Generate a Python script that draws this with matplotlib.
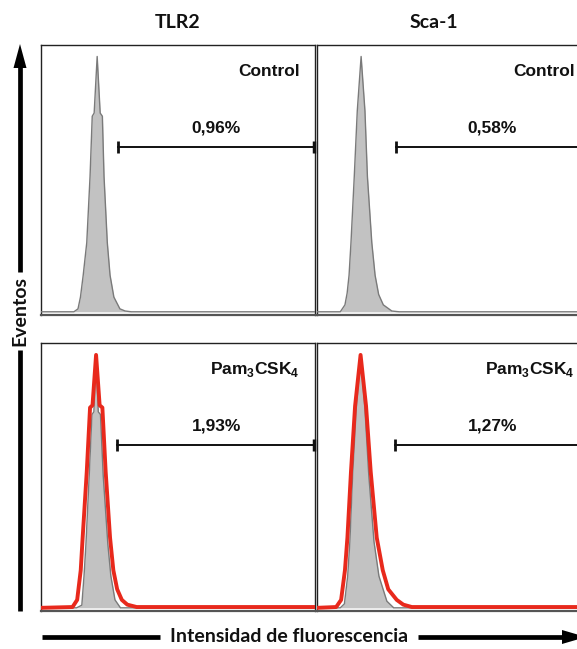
import matplotlib
matplotlib.use("Agg")
import matplotlib.pyplot as plt

plt.rcParams['mathtext.fontset'] = 'custom'
plt.rcParams['mathtext.rm'] = 'Liberation Sans:bold'
plt.rcParams['mathtext.bf'] = 'Liberation Sans:bold'

# fluorescence channel (% of range) vs events (% of max)
tlr2_ctrl_x = [0, 12.0, 13.5, 14.4, 15.4, 16.7, 17.9, 18.7, 19.4, 20.5, 21.6, 22.4, 23.0, 24.2, 25.2, 26.6, 28.8, 30.7, 33.0, 100]
tlr2_ctrl_y = [0, 0, 1.1, 5.5, 13.7, 25.9, 50.7, 73.3, 74.5, 95.7, 74.5, 73.3, 50.7, 25.9, 13.7, 5.5, 1.1, 0.3, 0, 0]

sca1_ctrl_x = [0, 8.5, 10.2, 11.0, 11.7, 12.4, 13.6, 14.7, 16.1, 17.5, 18.4, 20.0, 21.2, 22.5, 24.2, 27.3, 30.0, 100]
sca1_ctrl_y = [0, 0, 2.6, 7.0, 13.7, 25.9, 50.7, 75.3, 95.7, 75.3, 50.7, 25.9, 13.7, 6.5, 2.6, 0.3, 0, 0]

# control overlay drawn under the Pam3CSK4 trace
tlr2_over_x = [0, 13.0, 14.9, 15.7, 16.4, 17.6, 18.6, 19.3, 20.1, 20.9, 21.7, 22.7, 24.4, 25.5, 27.0, 29.0, 100]
tlr2_over_y = [0, 0, 1.0, 12.0, 24.0, 50.0, 73.0, 74.0, 95.0, 74.0, 73.0, 50.0, 24.0, 12.0, 3.0, 0, 0]

sca1_over_x = [0, 8.5, 10.0, 11.2, 12.0, 13.0, 14.3, 15.9, 17.5, 18.9, 20.8, 22.6, 25.5, 28.0, 100]
sca1_over_y = [0, 0, 1.5, 12.0, 25.0, 50.0, 75.0, 95.0, 75.0, 50.0, 25.0, 12.0, 2.5, 0, 0]

tlr2_pam_x = [0, 11.5, 13.2, 14.5, 15.2, 16.7, 17.9, 18.8, 20.1, 21.4, 22.4, 23.6, 25.2, 26.4, 27.8, 29.5, 31.5, 34.9, 100]
tlr2_pam_y = [0, 0.3, 3.0, 14.2, 26.5, 51.4, 75.6, 76.5, 95.5, 76.5, 75.6, 51.4, 26.5, 14.2, 7.0, 3.0, 1.2, 0.3, 0.3]

sca1_pam_x = [0, 7.0, 8.8, 10.2, 11.1, 12.4, 13.9, 15.9, 17.9, 19.6, 21.8, 24.0, 26.0, 29.1, 31.5, 34.6, 100]
sca1_pam_y = [0, 0.3, 3.0, 14.2, 26.5, 51.4, 76.2, 95.5, 76.2, 51.4, 26.5, 14.2, 7.0, 3.0, 1.2, 0.3, 0.3]

markers = ['TLR2', 'Sca-1']
conditions = ['Control', r'Pam$_3$CSK$_4$']
percentages = [['0,96%', '0,58%'], ['1,93%', '1,27%']]
gate_start = [[28.1, 28.8], [27.8, 28.5]]
gate_level = [61.9, 61.3]

gray_curves = [[(tlr2_ctrl_x, tlr2_ctrl_y), (sca1_ctrl_x, sca1_ctrl_y)],
               [(tlr2_over_x, tlr2_over_y), (sca1_over_x, sca1_over_y)]]
pam_curves = [(tlr2_pam_x, tlr2_pam_y), (sca1_pam_x, sca1_pam_y)]

W, H = 577, 649
fig = plt.figure(figsize=(W / 100, H / 100), dpi=100)

# panel boxes in pixels
col_px = [(41, 315), (317, 591)]
row_px = [(45, 315), (343, 611)]

for r in range(2):
    for c in range(2):
        x0, x1 = col_px[c]
        y0, y1 = row_px[r]
        ax = fig.add_axes([x0 / W, 1 - y1 / H, (x1 - x0) / W, (y1 - y0) / H])
        ax.set_xlim(0, 100)
        ax.set_ylim(-1.2, 100)
        ax.set_xticks([])
        ax.set_yticks([])
        for side in ['left', 'top', 'right']:
            ax.spines[side].set_linewidth(1.0)
            ax.spines[side].set_color('#222222')
        ax.spines['bottom'].set_linewidth(1.6)
        ax.spines['bottom'].set_color('#555555')

        gx, gy = gray_curves[r][c]
        ax.fill_between(gx, gy, 0, color='#c2c2c2', lw=0, zorder=2)
        ax.plot(gx, gy, color='#7a7a7a', lw=1.0, zorder=3)
        if r == 1:
            px, py = pam_curves[c]
            ax.plot(px, py, color='#e8291c', lw=2.8, zorder=4,
                    solid_joinstyle='round', solid_capstyle='round')

        # gate bar
        ax.plot([gate_start[r][c], 100], [gate_level[r]] * 2, color='#111111', lw=1.4, zorder=5,
                clip_on=False)
        ax.plot([gate_start[r][c]], [gate_level[r]], marker='|', ms=8, mew=2, color='#111111', zorder=5)
        ax.plot([99.6], [gate_level[r]], marker='|', ms=8, mew=2.5, color='#111111', zorder=5,
                clip_on=False)

        ax.text(0.945 if c == 0 else 0.94, 0.885, conditions[r], transform=ax.transAxes,
                ha='right', va='baseline', fontsize=12.5, fontweight='bold',
                family='Liberation Sans', color='#111111')
        ax.text(0.64, 0.675, percentages[r][c], transform=ax.transAxes,
                ha='center', va='baseline', fontsize=12.5, fontweight='bold',
                family='Liberation Sans', color='#111111')

# overlay for titles and axis arrows, in pixel coordinates
ov = fig.add_axes([0, 0, 1, 1], zorder=10)
ov.set_xlim(0, W)
ov.set_ylim(H, 0)
ov.axis('off')
ov.patch.set_alpha(0)

title_kw = dict(fontsize=14, fontweight='bold', family='Lato', color='#111111')
ov.text(178, 22, markers[0], ha='center', va='center', **title_kw)
ov.text(434, 22, markers[1], ha='center', va='center', **title_kw)

# vertical arrow: Eventos
ov.plot([20, 20], [66, 272], color='black', lw=3.4, solid_capstyle='butt')
ov.plot([20, 20], [350, 611], color='black', lw=3.4, solid_capstyle='butt')
ov.fill([13.5, 26.5, 20], [68, 68, 44], color='black', lw=0)
ov.text(20, 311, 'Eventos', rotation=90, ha='center', va='center', **title_kw)

# horizontal arrow: fluorescence
ov.plot([42, 160], [637, 637], color='black', lw=3.4, solid_capstyle='butt')
ov.plot([418, 566], [637, 637], color='black', lw=3.4, solid_capstyle='butt')
ov.fill([562, 562, 586], [630, 644, 637], color='black', lw=0)
ov.text(289, 637, 'Intensidad de fluorescencia', ha='center', va='center', **title_kw)

fig.savefig('out.png', dpi=100)
